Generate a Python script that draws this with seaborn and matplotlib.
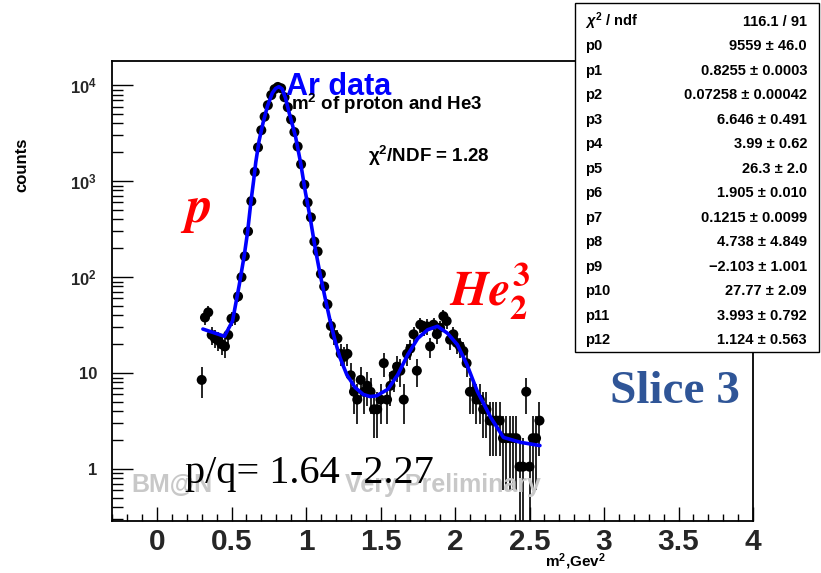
import numpy as np
import pandas as pd
import matplotlib
matplotlib.use("Agg")
import matplotlib.pyplot as plt
import seaborn as sns
from matplotlib.ticker import FixedLocator, FixedFormatter, MultipleLocator, NullFormatter
from matplotlib.patches import Rectangle

# ---------------- data ----------------
m2_bins = [0.300, 0.322, 0.344, 0.367, 0.389, 0.411, 0.433, 0.456, 0.478, 0.500,
           0.522, 0.544, 0.567, 0.589, 0.611, 0.633, 0.656, 0.678, 0.700, 0.722,
           0.744, 0.767, 0.789, 0.811, 0.833, 0.856, 0.878, 0.900, 0.922, 0.944,
           0.967, 0.989, 1.011, 1.033, 1.056, 1.078, 1.100, 1.122, 1.144, 1.167,
           1.189, 1.211, 1.233, 1.256, 1.278, 1.300, 1.322, 1.344, 1.367, 1.389,
           1.411, 1.433, 1.456, 1.478, 1.500, 1.522, 1.544, 1.567, 1.589, 1.611,
           1.633, 1.656, 1.678, 1.700, 1.722, 1.744, 1.767, 1.789, 1.811, 1.833,
           1.856, 1.878, 1.900, 1.922, 1.944, 1.967, 1.989, 2.011, 2.033, 2.056,
           2.078, 2.100, 2.122, 2.144, 2.167, 2.189, 2.211, 2.233, 2.256, 2.278,
           2.300, 2.322, 2.344, 2.367, 2.389, 2.411, 2.433, 2.456, 2.478, 2.500,
           2.522, 2.544, 2.567]
counts = [8.5, 38, 43, 25, 23, 22, 20, 19, 25, 37,
          38, 63, 100, 165, 300, 620, 1250, 2250, 3400, 4700,
          6200, 7900, 9100, 9600, 9300, 7500, 5900, 4400, 3250, 2300,
          1500, 920, 600, 420, 235, 185, 108, 80, 52, 31,
          25, 23, 15.9, 14.8, 15.9, 9.5, 6.4, 5.3, 8.5, 6.4,
          7.4, 6.4, 4.2, 4.2, 5.3, 12.7, 5.3, 7.4, 9.5, 11.7,
          10.6, 5.3, 15.9, 18, 25.4, 10.6, 32, 29.7, 30.7, 19,
          32, 25.4, 29.7, 39.2, 34.9, 22.3, 25.4, 20.7, 19, 17,
          12.7, 6.4, 6.4, 5.3, 5.3, 4.2, 4.2, 3.2, 3.2, 3.2,
          3.2, 2.1, 2.1, 2.1, 2.1, 2.1, 1.06, 1.06, 6.4, 1.06,
          2.1, 2.1, 3.2]
bin_half_width = 0.0111

fit_x = [0.308, 0.453, 0.507, 0.552, 0.586, 0.608, 0.630, 0.648, 0.663, 0.685,
         0.712, 0.741, 0.774, 0.796, 0.818, 0.840, 0.862, 0.885, 0.929, 0.963,
         0.996, 1.029, 1.062, 1.096, 1.129, 1.162, 1.196, 1.229, 1.273, 1.329,
         1.384, 1.430, 1.473, 1.550, 1.617, 1.683, 1.750, 1.816, 1.883, 1.950,
         2.016, 2.080, 2.149, 2.240, 2.325, 2.440, 2.570]
fit_y = [28.8, 24.2, 35, 83, 170, 296, 605, 1000, 1580, 2630,
         4070, 6030, 8300, 9250, 9650, 9150, 7400, 5300, 2950, 1580,
         767, 407, 199, 105, 60, 35, 21.5, 14.4, 9.7, 7.1,
         6.0, 5.7, 5.8, 6.8, 9.7, 15.6, 23, 28.3, 30.8, 26,
         19.8, 12.3, 6.5, 3.45, 2.14, 1.9, 1.76]

stat_labels = ["$\\chi^{2}$ / ndf", "p0", "p1", "p2", "p3", "p4", "p5", "p6",
               "p7", "p8", "p9", "p10", "p11", "p12"]
stat_values = ["116.1 / 91", "9559 \u00b1 46.0", "0.8255 \u00b1 0.0003",
               "0.07258 \u00b1 0.00042", "6.646 \u00b1 0.491", "3.99 \u00b1 0.62",
               "26.3 \u00b1 2.0", "1.905 \u00b1 0.010", "0.1215 \u00b1 0.0099",
               "4.738 \u00b1 4.849", "\u22122.103 \u00b1 1.001", "27.77 \u00b1 2.09",
               "3.993 \u00b1 0.792", "1.124 \u00b1 0.563"]

x_ticks = [0, 0.5, 1, 1.5, 2, 2.5, 3, 3.5, 4]
x_tick_labels = ["0", "0.5", "1", "1.5", "2", "2.5", "3", "3.5", "4"]
y_ticks = [1, 10, 100, 1000, 10000]
y_tick_labels = ["1", "10", "$10^{2}$", "$10^{3}$", "$10^{4}$"]

# ---------------- style ----------------
sns.set_theme(style="white")
plt.rcParams['font.family'] = ['Liberation Sans', 'DejaVu Sans']
plt.rcParams['font.weight'] = 'bold'
plt.rcParams['mathtext.fontset'] = 'custom'
plt.rcParams['mathtext.rm'] = 'Liberation Sans:bold'
plt.rcParams['mathtext.it'] = 'Liberation Sans:bold:italic'
plt.rcParams['mathtext.bf'] = 'Liberation Sans:bold'

W, H = 821, 573
fig = plt.figure(figsize=(W / 100, H / 100), dpi=100)
fig.patch.set_facecolor('white')

def fx(px):
    return px / W

def fy(py):
    return 1 - py / H

L, R, T, B = 112.3, 753.0, 60.5, 520.7
ax = fig.add_axes([fx(L), fy(B), fx(R - L), (B - T) / H])
ax.set_facecolor('white')

df = pd.DataFrame({"m2": m2_bins, "counts": counts})
err = np.sqrt(df["counts"].to_numpy() * 1.06)
lower = np.minimum(err, df["counts"].to_numpy() - 0.01)

ax.errorbar(df["m2"], df["counts"], yerr=[lower, err], xerr=bin_half_width,
            fmt='none', ecolor='black', elinewidth=1.2, capsize=0, zorder=3)
sns.scatterplot(data=df, x="m2", y="counts", ax=ax, color='black', s=52,
                marker='o', edgecolor='none', linewidth=0, zorder=4, legend=False)

fit_df = pd.DataFrame({"x": fit_x, "y": fit_y})
sns.lineplot(data=fit_df, x="x", y="y", ax=ax, color='#0000ff', lw=2.6,
             sort=False, estimator=None, zorder=5, legend=False)

ax.set_yscale('log')
ax.set_xlim(-0.3, 4.0)
ax.set_ylim(0.29, 18100)

ax.xaxis.set_major_locator(FixedLocator(x_ticks))
ax.xaxis.set_major_formatter(FixedFormatter(x_tick_labels))
ax.xaxis.set_minor_locator(MultipleLocator(0.1))
ax.yaxis.set_major_locator(FixedLocator(y_ticks))
ax.yaxis.set_major_formatter(FixedFormatter(y_tick_labels))
minor_y = [m * 10.0 ** e for e in range(-1, 5) for m in range(2, 10)]
ax.yaxis.set_minor_locator(FixedLocator(minor_y))
ax.yaxis.set_minor_formatter(NullFormatter())

ax.tick_params(axis='x', which='major', direction='in', length=10, width=1,
               labelsize=21.5, pad=5, bottom=True, top=False, color='black')
ax.tick_params(axis='x', which='minor', direction='in', length=5, width=1,
               bottom=True, top=False, color='black')
ax.tick_params(axis='y', which='major', direction='in', length=15, width=1,
               labelsize=12, pad=11, left=True, right=False, color='black')
ax.tick_params(axis='y', which='minor', direction='in', length=8, width=1,
               left=True, right=False, color='black')
for lab in ax.get_xticklabels() + ax.get_yticklabels():
    lab.set_fontweight('bold')
ax.set_xlabel("")
ax.set_ylabel("")
for sp in ax.spines.values():
    sp.set_color('black')
    sp.set_linewidth(1.3)

# ---------------- annotations ----------------
def ftext(px, py, s, **kw):
    return fig.text(fx(px), fy(py), s, va='baseline', **kw)

fig.text(fx(22), fy(165), "counts", rotation=90, ha='center', va='center',
         fontsize=12, fontweight='bold', color='black')
ftext(545, 567, "m$^{2}$,Gev$^{2}$", fontsize=11, fontweight='bold', color='black')

gray = '#c8c8c8'
ftext(131, 492, "BM@N", fontsize=18, fontweight='bold', color=gray, zorder=1)
ftext(345, 492, "Very Preliminary", fontsize=18, fontweight='bold', color=gray, zorder=1)

ftext(286, 95, "Ar data", fontsize=22, fontweight='bold', color='#0000ff', zorder=6)
ftext(291, 110, "m$^{2}$ of proton and He3", fontsize=13.5, fontweight='bold',
      color='black', zorder=6)
ftext(368, 162, "\u03c7$^{2}$/NDF = 1.28", fontsize=13.5, fontweight='bold',
      color='black', zorder=6)

ftext(180, 222, r"$p$", fontsize=37, color='#ff0000', math_fontfamily='stix', zorder=6)
ftext(449, 305, r"$He_2^3$", fontsize=35, color='#ff0000', math_fontfamily='stix', zorder=6)
ftext(610, 403, "Slice 3", fontsize=34, fontweight='bold', color='#2F5597',
      family=['Liberation Serif', 'DejaVu Serif'], zorder=6)
ftext(185, 483, "p/q= 1.64 -2.27", fontsize=29, fontweight='normal', color='black',
      family=['Liberation Serif', 'DejaVu Serif'], zorder=6)

# ---------------- stats box ----------------
bx0, by0, bx1, by1 = 575, 3, 819, 352
fig.add_artist(Rectangle((fx(bx0), fy(by1)), fx(bx1 - bx0), (by1 - by0) / H,
                         transform=fig.transFigure, facecolor='white',
                         edgecolor='black', linewidth=1.0, zorder=10))
row0, dy = 21.7, 24.5
for i, (lab, val) in enumerate(zip(stat_labels, stat_values)):
    yc = row0 + i * dy
    fig.text(fx(585), fy(yc), lab, ha='left', va='center', fontsize=10.5,
             fontweight='bold', color='black', zorder=11)
    fig.text(fx(807), fy(yc), val, ha='right', va='center', fontsize=10.5,
             fontweight='bold', color='black', zorder=11)

fig.savefig("out.png", dpi=100, facecolor='white')
